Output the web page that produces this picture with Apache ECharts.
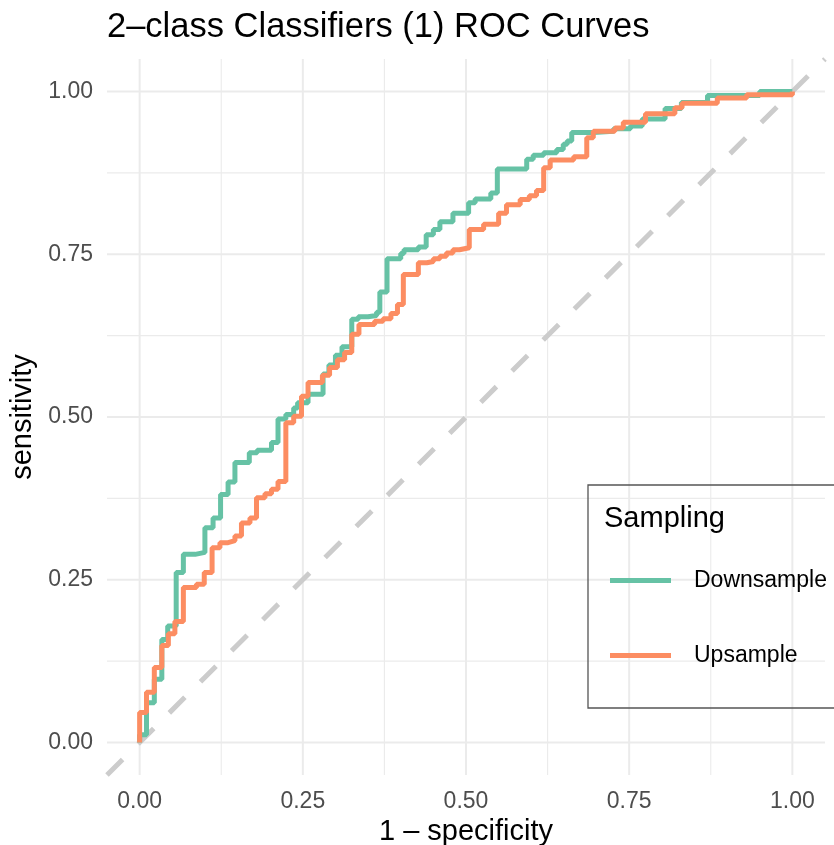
<!DOCTYPE html>
<html>
<head>
<meta charset="utf-8">
<script src="https://cdn.jsdelivr.net/npm/echarts@6/dist/echarts.min.js"></script>
<style>
  html, body { margin: 0; padding: 0; background: #ffffff; }
  #chart { width: 834px; height: 845px; }
</style>
</head>
<body>
<div id="chart"></div>
<script>
// ROC step knots: after each horizontal move to fpr[i], the curve rises to tpr[i]
const downFpr = [0, 0.0105, 0.0225, 0.034, 0.043, 0.056, 0.067, 0.085, 0.1, 0.1125, 0.124, 0.1355, 0.146, 0.168, 0.18, 0.202, 0.212, 0.224, 0.236, 0.242, 0.258, 0.281, 0.29, 0.3, 0.31, 0.325, 0.335, 0.35, 0.363, 0.368, 0.379, 0.4, 0.405, 0.427, 0.439, 0.45, 0.46, 0.48, 0.504, 0.514, 0.538, 0.548, 0.593, 0.603, 0.619, 0.639, 0.649, 0.655, 0.662, 0.695, 0.726, 0.752, 0.77, 0.805, 0.83, 0.87, 0.95, 1];
const downTpr = [0.012, 0.061, 0.097, 0.158, 0.179, 0.261, 0.289, 0.292, 0.33, 0.345, 0.381, 0.40, 0.43, 0.445, 0.449, 0.461, 0.497, 0.504, 0.514, 0.522, 0.535, 0.566, 0.58, 0.595, 0.608, 0.65, 0.654, 0.656, 0.661, 0.692, 0.743, 0.751, 0.757, 0.761, 0.78, 0.788, 0.80, 0.813, 0.829, 0.835, 0.844, 0.881, 0.896, 0.902, 0.906, 0.911, 0.919, 0.924, 0.937, 0.939, 0.943, 0.947, 0.958, 0.974, 0.983, 0.994, 1, 1];

const upFpr = [0, 0.0105, 0.0225, 0.034, 0.044, 0.054, 0.067, 0.087, 0.099, 0.111, 0.123, 0.1355, 0.146, 0.156, 0.169, 0.179, 0.192, 0.202, 0.212, 0.224, 0.236, 0.248, 0.258, 0.28, 0.291, 0.303, 0.314, 0.325, 0.336, 0.36, 0.373, 0.385, 0.395, 0.404, 0.427, 0.44, 0.45, 0.46, 0.47, 0.48, 0.49, 0.505, 0.527, 0.55, 0.562, 0.583, 0.597, 0.608, 0.619, 0.629, 0.665, 0.685, 0.695, 0.728, 0.741, 0.775, 0.82, 0.831, 0.885, 0.93, 1];
const upTpr = [0.046, 0.077, 0.115, 0.149, 0.167, 0.186, 0.238, 0.243, 0.261, 0.299, 0.307, 0.31, 0.317, 0.337, 0.345, 0.376, 0.382, 0.389, 0.401, 0.491, 0.501, 0.532, 0.553, 0.564, 0.576, 0.588, 0.599, 0.627, 0.642, 0.647, 0.651, 0.659, 0.673, 0.719, 0.737, 0.739, 0.743, 0.747, 0.752, 0.757, 0.76, 0.788, 0.796, 0.813, 0.826, 0.834, 0.84, 0.848, 0.883, 0.895, 0.9, 0.929, 0.939, 0.944, 0.953, 0.966, 0.975, 0.982, 0.99, 0.995, 1];

const seriesNames = ['Downsample', 'Upsample'];
const seriesColors = ['#66C2A5', '#FC8D62'];

// axis range with 5% expansion, labelled breaks and minor breaks
const axisMin = -0.05;
const axisMax = 1.05;
const majorBreaks = [0, 0.25, 0.5, 0.75, 1];
const minorBreaks = [0.125, 0.375, 0.625, 0.875];

const FONT = '"Liberation Sans", Arial, Helvetica, sans-serif';

// horizontal-then-vertical staircase through the knots, skipping repeated points
function stairs(fpr, tpr) {
  const pts = [[0, 0]];
  const add = (x, y) => {
    const last = pts[pts.length - 1];
    if (last[0] !== x || last[1] !== y) pts.push([x, y]);
  };
  let prevY = 0;
  for (let i = 0; i < fpr.length; i++) {
    add(fpr[i], prevY);
    add(fpr[i], tpr[i]);
    prevY = tpr[i];
  }
  return pts;
}

// panel grid: [orientation (0 vertical, 1 horizontal), value, major flag]
const gridData = [];
majorBreaks.forEach(v => { gridData.push([0, v, 1]); gridData.push([1, v, 1]); });
minorBreaks.forEach(v => { gridData.push([0, v, 0]); gridData.push([1, v, 0]); });

function renderGridLine(params, api) {
  const dir = api.value(0);
  const v = api.value(1);
  const major = api.value(2) === 1;
  const p1 = dir === 0 ? api.coord([v, axisMin]) : api.coord([axisMin, v]);
  const p2 = dir === 0 ? api.coord([v, axisMax]) : api.coord([axisMax, v]);
  return {
    type: 'line',
    shape: { x1: p1[0], y1: p1[1], x2: p2[0], y2: p2[1] },
    style: { stroke: '#EBEBEB', lineWidth: major ? 2 : 1.1 },
    silent: true
  };
}

function isMajor(v) {
  return majorBreaks.some(b => Math.abs(b - v) < 1e-6);
}

const chart = echarts.init(document.getElementById('chart'), null, { renderer: 'canvas' });

const valueAxis = (name, isX) => ({
  type: 'value',
  min: axisMin,
  max: axisMax,
  interval: 0.05,
  name: name,
  nameLocation: 'middle',
  nameGap: isX ? 42 : 64,
  nameTextStyle: { fontFamily: FONT, fontSize: 29, color: '#000000' },
  axisLine: { show: false, onZero: false },
  axisTick: { show: false },
  splitLine: { show: false },
  axisLabel: {
    interval: 0,
    margin: isX ? 15 : 14,
    fontFamily: FONT,
    fontSize: 23,
    color: '#4D4D4D',
    formatter: v => (isMajor(v) ? v.toFixed(2) : '')
  }
});

chart.setOption({
  animation: false,
  backgroundColor: '#ffffff',
  title: {
    text: '2\u2013class Classifiers (1) ROC Curves',
    left: 107,
    top: 10,
    padding: 0,
    textStyle: { fontFamily: FONT, fontSize: 34.5, fontWeight: 'normal', color: '#000000' }
  },
  grid: { left: 107, right: 9, top: 59, bottom: 70, containLabel: false, outerBoundsMode: 'none' },
  xAxis: valueAxis('1 \u2013 specificity', true),
  yAxis: valueAxis('sensitivity', false),
  legend: {
    data: seriesNames,
    orient: 'vertical',
    left: 588,
    top: 485,
    padding: [84, 24, 41, 22],
    itemGap: 52,
    itemWidth: 61,
    itemHeight: 5,
    icon: 'rect',
    selectedMode: false,
    borderColor: '#555555',
    borderWidth: 1.3,
    borderRadius: 0,
    itemStyle: { borderWidth: 0 },
    textStyle: { fontFamily: FONT, fontSize: 23, color: '#000000', padding: [0, 0, 0, 18] }
  },
  graphic: [{
    type: 'text',
    x: 604,
    y: 519,
    z: 100,
    style: { text: 'Sampling', font: '29px ' + FONT, fill: '#000000', verticalAlign: 'middle', align: 'left' }
  }],
  series: [
    {
      name: 'grid',
      type: 'custom',
      data: gridData,
      z: 1,
      silent: true,
      clip: false,
      renderItem: renderGridLine
    },
    {
      name: 'diagonal',
      type: 'line',
      data: [[axisMin, axisMin], [axisMax, axisMax]],
      z: 2,
      silent: true,
      showSymbol: false,
      symbol: 'none',
      lineStyle: { color: '#CCCCCC', width: 5, type: [22, 22] }
    },
    {
      name: seriesNames[0],
      type: 'line',
      data: stairs(downFpr, downTpr),
      z: 3,
      color: seriesColors[0],
      showSymbol: false,
      symbol: 'none',
      lineStyle: { color: seriesColors[0], width: 5 }
    },
    {
      name: seriesNames[1],
      type: 'line',
      data: stairs(upFpr, upTpr),
      z: 4,
      color: seriesColors[1],
      showSymbol: false,
      symbol: 'none',
      lineStyle: { color: seriesColors[1], width: 5 }
    }
  ]
});
</script>
</body>
</html>
